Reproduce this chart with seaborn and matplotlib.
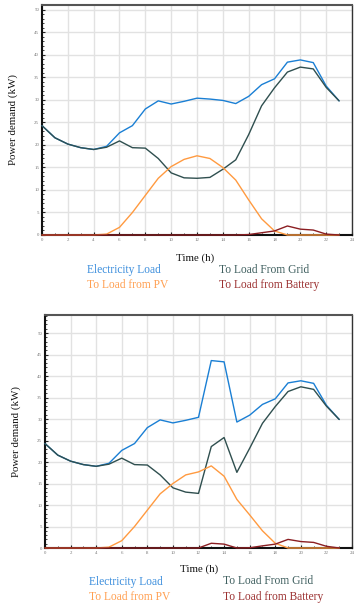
import numpy as np
import pandas as pd
import matplotlib
matplotlib.use("Agg")
import matplotlib.pyplot as plt
import seaborn as sns
from matplotlib.ticker import MultipleLocator

hours = list(range(24))

# Top chart
load_a = [24.3, 21.6, 20.2, 19.4, 19.0, 19.7, 22.7, 24.3, 28.0, 29.8, 29.1, 29.7,
          30.4, 30.2, 29.9, 29.2, 30.8, 33.4, 34.7, 38.4, 38.9, 38.3, 33.1, 29.8]
grid_a = [24.3, 21.6, 20.2, 19.4, 19.0, 19.5, 20.9, 19.4, 19.3, 17.0, 13.8, 12.7,
          12.6, 12.8, 14.6, 16.7, 22.3, 28.7, 32.7, 36.2, 37.3, 36.9, 32.8, 29.8]
pv_a = [0, 0, 0, 0, 0, 0.2, 1.7, 5.0, 8.8, 12.6, 15.2, 16.8,
        17.6, 17.0, 15.0, 12.2, 7.8, 3.6, 0.9, 0, 0, 0, 0, 0]
batt_a = [0, 0, 0, 0, 0, 0, 0, 0, 0, 0, 0, 0,
          0, 0, 0, 0, 0.1, 0.5, 0.9, 2.0, 1.3, 1.1, 0.2, 0]

# Bottom chart
load_b = [24.3, 21.6, 20.2, 19.4, 19.0, 19.7, 22.7, 24.3, 28.0, 29.8, 29.1, 29.7,
          30.4, 43.6, 43.3, 29.3, 30.9, 33.4, 34.7, 38.4, 38.9, 38.3, 33.2, 29.9]
grid_b = [24.3, 21.6, 20.2, 19.4, 19.0, 19.5, 20.9, 19.4, 19.3, 17.0, 14.0, 13.0,
          12.7, 23.6, 25.7, 17.6, 23.2, 29.0, 32.9, 36.4, 37.5, 36.9, 33.0, 29.9]
pv_b = [0, 0, 0, 0, 0, 0.2, 1.7, 5.0, 8.8, 12.6, 15.0, 17.0,
        17.7, 19.1, 16.7, 11.3, 7.7, 4.0, 1.1, 0, 0, 0, 0, 0]
batt_b = [0, 0, 0, 0, 0, 0, 0, 0, 0, 0, 0, 0,
          0, 1.1, 0.9, 0, 0.05, 0.5, 0.9, 2.0, 1.5, 1.3, 0.4, 0]

series_names = ["Electricity Load", "To Load From Grid", "To Load from PV", "To Load from Battery"]
line_colors = ["#1a7fd4", "#2f4f4f", "#ff9a40", "#8b1e22"]
text_colors = ["#3d8fdd", "#3f5f5f", "#ff9f50", "#9b3030"]

sns.set_style("whitegrid")
plt.rcParams['font.family'] = ['Liberation Serif', 'DejaVu Serif']

fig = plt.figure(figsize=(3.55, 6.07), dpi=100)

def draw(rect, data, ymax, legend_y, xlabel_pos, leg_x):
    ax = fig.add_axes(rect)
    for vals, name, col in zip(data, series_names, line_colors):
        df = pd.DataFrame({"Time": hours, "Power": vals})
        sns.lineplot(data=df, x="Time", y="Power", ax=ax, color=col, linewidth=1.0,
                     zorder=4, clip_on=False)
    ax.set_xlim(0, 24)
    ax.set_ylim(0, ymax)
    ax.xaxis.set_major_locator(MultipleLocator(2))
    ax.xaxis.set_minor_locator(MultipleLocator(1))
    ax.yaxis.set_major_locator(MultipleLocator(5))
    ax.yaxis.set_minor_locator(MultipleLocator(1))
    ax.grid(True, which='major', color='#e2e2e2', linewidth=1.0)
    ax.grid(False, which='minor')
    ax.tick_params(axis='both', which='major', direction='in', length=2.5, width=0.8,
                   labelsize=3.5, labelcolor='#777777', color='#222222', pad=2,
                   left=True, bottom=True)
    ax.tick_params(axis='both', which='minor', direction='in', length=1.5, width=0.6,
                   color='#222222', left=True, bottom=True)
    for s in ['top', 'right', 'left', 'bottom']:
        ax.spines[s].set_visible(True)
        ax.spines[s].set_color('#333333')
    ax.spines['top'].set_linewidth(1.5)
    ax.spines['top'].set_color('#555555')
    ax.spines['left'].set_linewidth(1.5)
    ax.spines['left'].set_color('#111111')
    ax.spines['bottom'].set_linewidth(1.5)
    ax.spines['bottom'].set_color('#111111')
    ax.spines['right'].set_linewidth(1.0)
    ax.set_xlabel("")
    ax.set_ylabel("Power demand (kW)", fontsize=7.8, color='#111111', labelpad=12)
    fig.text(xlabel_pos[0] / 355, 1 - xlabel_pos[1] / 607, "Time (h)", fontsize=7.8,
             ha='center', va='center', color='#111111')
    for i, (name, tc) in enumerate(zip(series_names, text_colors)):
        col = i % 2
        row = i // 2
        fig.text(leg_x[col] / 355, 1 - (legend_y[row]) / 607, name, fontsize=8.3,
                 ha='left', va='center', color=tc)
    return ax

draw([42 / 355, 1 - 235 / 607, 310 / 355, 230 / 607],
     [load_a, grid_a, pv_a, batt_a], 51.1, [269.5, 285], (195, 258), [87, 219])
draw([45 / 355, 1 - 548 / 607, 307 / 355, 233 / 607],
     [load_b, grid_b, pv_b, batt_b], 54.2, [581.5, 597], (199, 569.5), [89, 223])

fig.savefig("out.png", dpi=100)
